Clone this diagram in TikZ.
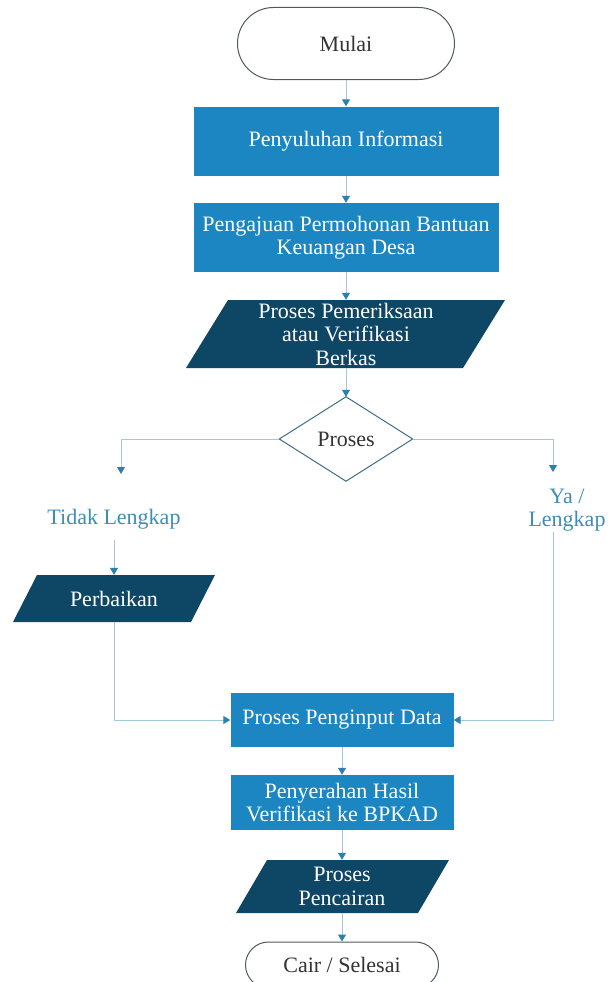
\documentclass[tikz,border=0pt]{standalone}
\usepackage{fontspec}
\setmainfont{Liberation Serif}
\usetikzlibrary{arrows.meta}
\definecolor{boxblue}{HTML}{1B86C1}
\definecolor{navy}{HTML}{0E4665}
\definecolor{linec}{HTML}{A3C8DA}
\definecolor{tipc}{HTML}{2A80B0}
\definecolor{labc}{HTML}{3C8EB2}
\definecolor{termc}{HTML}{4F5A60}
\definecolor{decc}{HTML}{3E6F80}
\begin{document}
\begin{tikzpicture}[x=1pt,y=-1pt,
  font=\fontsize{22}{23.5}\selectfont,
  conn/.style={draw=linec, line width=1pt, -{Triangle[width=8pt,length=7pt,color=tipc]}},
  bluebox/.style={rectangle, fill=boxblue, text=white, align=center, inner sep=0pt},
  pbox/.style={rectangle, draw=none, text=white, align=center, inner sep=0pt},
  term/.style={rectangle, draw=termc, line width=1pt, fill=white, text=black!80, inner sep=0pt},
  lab/.style={text=labc, align=center, inner sep=0pt}]
\useasboundingbox (0,0) rectangle (609,982);

\node[term, rounded corners=36pt, minimum width=217pt, minimum height=72pt] (mulai) at (346,43.5) {Mulai};
\node[bluebox, minimum width=305pt, minimum height=69pt] (peny) at (346,141) {Penyuluhan Informasi};
\node[bluebox, minimum width=305pt, minimum height=69pt] (peng) at (346,237.5) {Pengajuan Permohonan Bantuan\\Keuangan Desa};

\fill[navy] (228,300)--(505,300)--(463,368)--(186,368)--cycle;
\node[pbox, minimum width=277pt, minimum height=68pt] (ver) at (346,334) {Proses Pemeriksaan\\atau Verifikasi\\Berkas};

\node[inner sep=0pt, minimum width=133pt, minimum height=84pt, text=black!80] (dec) at (346,439) {Proses};
\draw[decc, line width=1pt] (dec.north)--(dec.east)--(dec.south)--(dec.west)--cycle;

\coordinate (lt) at (121,474);
\coordinate (rt) at (553,472);
\node[lab] (tidak) at (114,519) {Tidak Lengkap};
\node[lab] (ya) at (567,510) {Ya /\\Lengkap};
\coordinate (tl) at (114,540);
\coordinate (yr) at (553,532);

\fill[navy] (37,575)--(215,575)--(191,622)--(13,622)--cycle;
\node[pbox, minimum width=178pt, minimum height=47pt] (perb) at (114,598.5) {Perbaikan};

\node[bluebox, minimum width=223pt, minimum height=54pt] (inp) at (342,720) {Proses Penginput Data};
\node[bluebox, minimum width=223pt, minimum height=55pt] (serah) at (342,802.5) {Penyerahan Hasil\\Verifikasi ke BPKAD};

\fill[navy] (267,860)--(449,860)--(418,913)--(236,913)--cycle;
\node[pbox, minimum width=182pt, minimum height=53pt] (cair) at (342,886.5) {Proses\\Pencairan};

\node[term, rounded corners=23pt, minimum width=193pt, minimum height=46pt] (selesai) at (342,965) {Cair / Selesai};

\draw[conn] (mulai.south) -- (peny.north);
\draw[conn] (peny.south) -- (peng.north);
\draw[conn] (peng.south) -- (ver.north);
\draw[conn] (ver.south) -- (dec.north);
\draw[conn] (dec.west) -| (lt);
\draw[conn] (dec.east) -| (rt);
\draw[conn] (tl) -- (perb.north);
\draw[conn] (perb.south) |- (inp.west);
\draw[conn] (yr) |- (inp.east);
\draw[conn] (inp.south) -- (serah.north);
\draw[conn] (serah.south) -- (cair.north);
\draw[conn] (cair.south) -- (selesai.north);
\end{tikzpicture}
\end{document}
